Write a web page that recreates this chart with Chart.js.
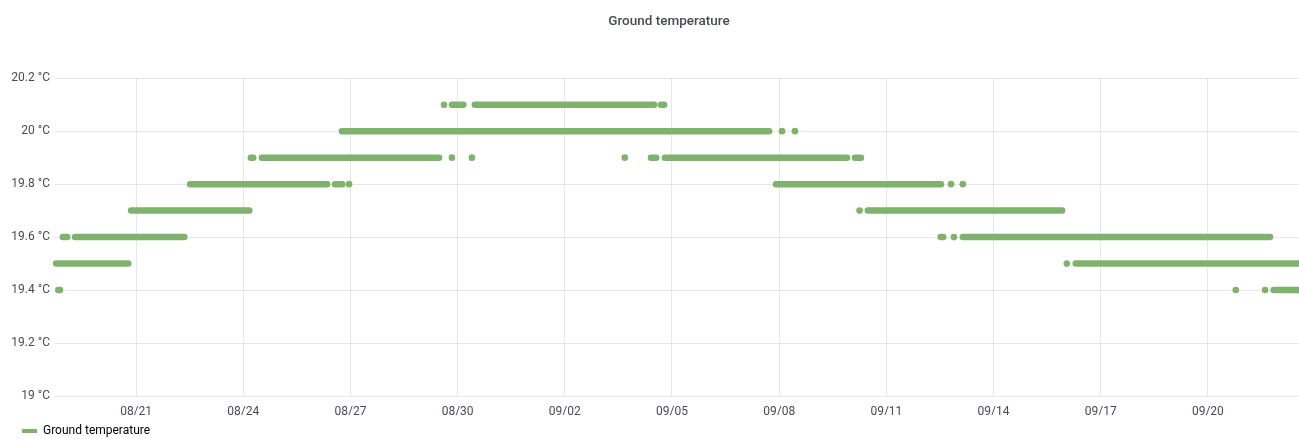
<!DOCTYPE html>
<html>
<head>
<meta charset="utf-8">
<script src="https://cdn.jsdelivr.net/npm/chart.js@4/dist/chart.umd.min.js"></script>
<style>
  html, body { margin: 0; padding: 0; background: #fff; }
  #wrap { position: relative; width: 1299px; height: 439px; }
</style>
</head>
<body>
<div id="wrap"><canvas id="tempChart"></canvas></div>
<script>
// x values are days counted from 08/21 00:00
const xTickDays = [0, 3, 6, 9, 12, 15, 18, 21, 24, 27, 30];
const xTickLabels = ['08/21', '08/24', '08/27', '08/30', '09/02', '09/05', '09/08', '09/11', '09/14', '09/17', '09/20'];
const yTicks = [19, 19.2, 19.4, 19.6, 19.8, 20, 20.2];
const yTickLabels = ['19 °C', '19.2 °C', '19.4 °C', '19.6 °C', '19.8 °C', '20 °C', '20.2 °C'];

// continuous runs of readings at one temperature
const runTemp  = [19.4,  19.4,  19.5,  19.5,  19.6,  19.6,  19.6,  19.6,  19.7,  19.7,  19.8, 19.8, 19.8,  19.9, 19.9, 19.9,  19.9,  19.9,  20.0, 20.1, 20.1,  20.1];
const runStart = [-2.18, 31.84, -2.24, 26.30, -2.05, -1.71, 22.52, 23.14, -0.14, 20.48, 1.51, 5.57, 17.91, 3.21, 3.52, 14.41, 14.80, 20.12, 5.76, 8.84, 9.48,  14.69];
const runEnd   = [-2.13, 32.60, -0.22, 32.60, -1.93, 1.35,  22.59, 31.74, 3.17,  25.92, 5.35, 5.77, 22.53, 3.28, 8.48, 14.56, 19.90, 20.29, 17.72, 9.16, 14.50, 14.78];

// isolated readings
const dotDay  = [30.78, 31.60, 26.05, 22.89, 20.25, 5.96, 22.81, 23.14, 8.84, 9.40, 13.68, 18.08, 18.44, 8.62];
const dotTemp = [19.4,  19.4,  19.5,  19.6,  19.7,  19.8, 19.8,  19.8,  19.9, 19.9, 19.9,  20.0,  20.0,  20.1];

const green = 'rgb(126, 178, 109)';
const textColor = '#464c54';
const gridColor = 'rgba(0, 0, 0, 0.09)';

const runPoints = [];
runTemp.forEach((t, i) => {
    runPoints.push({ x: runStart[i], y: t }, { x: runEnd[i], y: t }, { x: runEnd[i], y: null });
});
const dotPoints = dotDay.map((d, i) => ({ x: d, y: dotTemp[i] }));

Chart.defaults.font.family = 'Roboto, "Noto Sans", sans-serif';
Chart.defaults.font.size = 12;
Chart.defaults.color = textColor;

// nudge title and legend to where the panel puts them
const nudge = {
    id: 'nudge',
    afterLayout(chart) {
        chart.titleBlock.left -= 8;
        chart.titleBlock.right -= 8;
        chart.legend.left += 12;
        chart.legend.right += 12;
    }
};

new Chart(document.getElementById('tempChart'), {
    type: 'scatter',
    data: {
        datasets: [{
            label: 'Ground temperature',
            data: runPoints,
            showLine: true,
            spanGaps: false,
            clip: 6,
            borderColor: green,
            backgroundColor: green,
            borderWidth: 6.5,
            borderCapStyle: 'round',
            pointRadius: 0,
            pointHoverRadius: 0
        }, {
            label: 'Ground temperature',
            data: dotPoints,
            showLine: false,
            clip: 6,
            backgroundColor: green,
            borderWidth: 0,
            pointRadius: 3.3
        }]
    },
    options: {
        responsive: true,
        maintainAspectRatio: false,
        animation: false,
        layout: { autoPadding: false, padding: { top: 2, left: 0, right: 0, bottom: 0 } },
        scales: {
            x: {
                type: 'linear',
                min: -2.27,
                max: 32.55,
                afterBuildTicks: scale => { scale.ticks = xTickDays.map(v => ({ value: v })); },
                afterFit: scale => {
                    scale.height = 19;
                    scale.paddingLeft = 0;
                    scale.paddingRight = 0;
                },
                grid: { color: gridColor, drawTicks: false },
                border: { display: false },
                ticks: {
                    padding: 9,
                    maxRotation: 0,
                    autoSkip: false,
                    callback: (v, i) => xTickLabels[i]
                }
            },
            y: {
                type: 'linear',
                min: 19,
                max: 20.2,
                afterBuildTicks: scale => { scale.ticks = yTicks.map(v => ({ value: v })); },
                afterFit: scale => { scale.width = 55; },
                grid: { color: gridColor, drawTicks: false },
                border: { display: false },
                ticks: {
                    padding: 5,
                    callback: (v, i) => yTickLabels[i]
                }
            }
        },
        plugins: {
            title: {
                display: true,
                text: 'Ground temperature',
                fullSize: false,
                color: textColor,
                font: { size: 13.5, weight: '500' },
                padding: { top: 12, bottom: 48 }
            },
            legend: {
                position: 'bottom',
                align: 'start',
                maxHeight: 24,
                labels: {
                    boxWidth: 15,
                    boxHeight: 4,
                    padding: 10,
                    color: textColor,
                    generateLabels: () => [{
                        text: 'Ground temperature',
                        fillStyle: green,
                        strokeStyle: green,
                        lineWidth: 0,
                        datasetIndex: 0
                    }]
                }
            },
            tooltip: { enabled: false }
        }
    },
    plugins: [nudge]
});
</script>
</body>
</html>
